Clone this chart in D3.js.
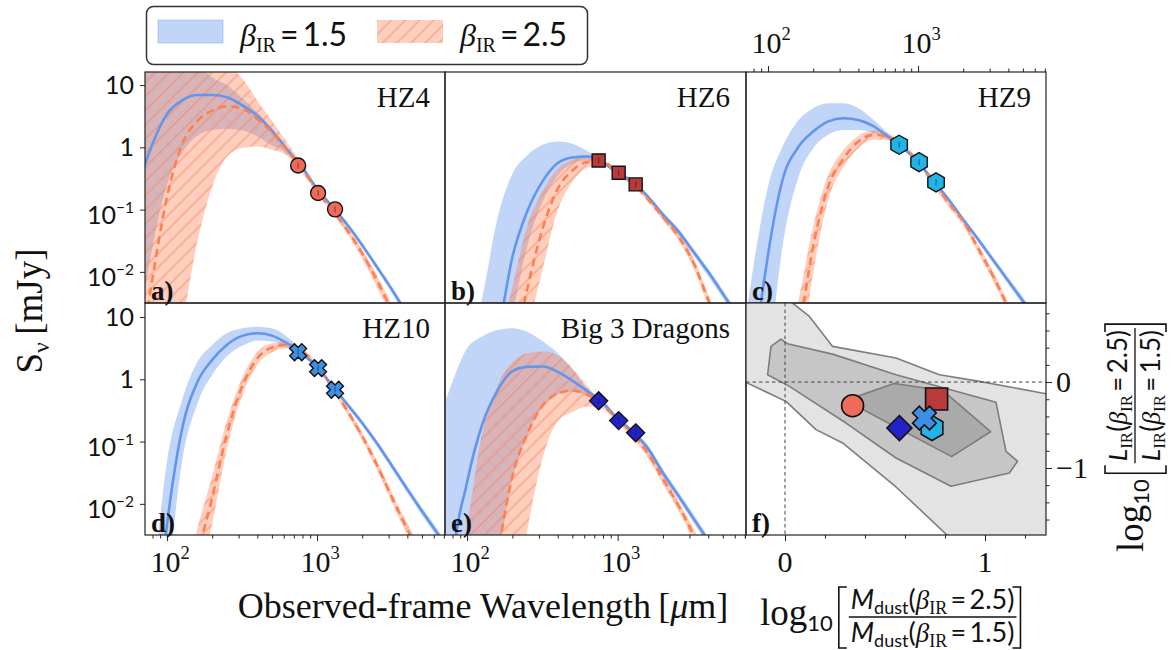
<!DOCTYPE html>
<html><head><meta charset="utf-8">
<script src="https://cdn.jsdelivr.net/npm/d3@7"></script>
<style>body{margin:0;background:#fff} svg{display:block}</style>
</head><body>
<svg id="chart" width="1172" height="650"></svg>
<script>
// ---------------- DATA ----------------
// wavelength grid (observed frame, micron)
const wavelength = [70,80,100,125,160,200,250,320,400,500,630,800,1000,1250,1600,2000,2500,3200,4000,5000,6300,8000];
// log10(S_nu / mJy): best fit (mid) and band limits (lo / hi)
const hz4_b15_mid = [-0.33,0.056,0.536,0.749,0.84,0.84,0.803,0.669,0.509,0.269,-0.03,-0.33,-0.664,-0.941,-1.251,-1.571,-1.917,-2.307,-2.691,-3.1,-3.5,-3.9];
const hz4_b15_hi  = [1.7,1.65,1.6,1.5,1.35,1.12,1.0,0.78,0.56,0.3,0.0,-0.3,-0.627,-0.904,-1.213,-1.533,-1.875,-2.259,-2.637,-3.05,-3.45,-3.85];
const hz4_b15_lo  = [-2.4,-1.6,-0.595,-0.104,0.189,0.28,0.296,0.269,0.173,0.029,-0.093,-0.36,-0.701,-0.984,-1.293,-1.613,-1.96,-2.36,-2.76,-3.15,-3.55,-3.95];
const hz4_b25_mid = [-3.0,-2.1,-0.797,0.029,0.429,0.589,0.659,0.616,0.456,0.243,-0.05,-0.35,-0.701,-0.995,-1.341,-1.704,-2.131,-2.664,-3.2,-3.7,-4.2,-4.7];
const hz4_b25_hi  = [2.2,2.1,1.95,1.8,1.65,1.5,1.34,1.096,0.749,0.429,0.083,-0.291,-0.664,-0.957,-1.288,-1.64,-2.051,-2.557,-3.05,-3.55,-4.05,-4.55];
const hz4_b25_lo  = [-5,-4.6,-3.8,-2.877,-1.49,-0.637,-0.157,-0.008,0.013,-0.04,-0.131,-0.413,-0.744,-1.037,-1.395,-1.784,-2.237,-2.771,-3.3,-3.8,-4.3,-4.8];

const hz6_b15_mid = [-6,-5.5,-4.6,-3.8,-3.0,-1.757,-1.037,-0.531,-0.253,-0.163,-0.147,-0.237,-0.413,-0.55,-0.8,-1.08,-1.33,-1.68,-2.0,-2.35,-2.72,-3.1];
const hz6_b15_hi  = [-4.5,-4.0,-3.3,-2.45,-1.117,-0.424,-0.131,0.045,0.093,0.056,-0.061,-0.211,-0.381,-0.52,-0.77,-1.04,-1.29,-1.63,-1.95,-2.29,-2.65,-3.02];
const hz6_b15_lo  = [-7,-6.5,-5.5,-4.5,-3.5,-2.66,-1.597,-0.851,-0.451,-0.264,-0.211,-0.275,-0.451,-0.6,-0.84,-1.13,-1.39,-1.74,-2.07,-2.42,-2.8,-3.2];
const hz6_b25_mid = [-8,-7,-6,-5,-4.2,-3.4,-2.29,-1.277,-0.664,-0.371,-0.237,-0.237,-0.397,-0.56,-0.84,-1.12,-1.41,-1.86,-2.45,-3.0,-3.6,-4.2];
const hz6_b25_hi  = [-7,-6,-5,-4,-3.2,-2.237,-1.277,-0.691,-0.344,-0.2,-0.147,-0.2,-0.36,-0.52,-0.8,-1.07,-1.35,-1.78,-2.36,-2.9,-3.5,-4.1];
const hz6_b25_lo  = [-9,-8,-7,-6,-5,-4,-3.0,-1.917,-1.011,-0.557,-0.328,-0.291,-0.44,-0.61,-0.88,-1.17,-1.47,-1.94,-2.54,-3.1,-3.7,-4.3];

const hz9_b15_mid = [-5,-3.5,-1.72,-0.52,0.013,0.253,0.413,0.467,0.44,0.344,0.173,-0.013,-0.237,-0.52,-0.84,-1.16,-1.469,-1.827,-2.147,-2.467,-2.813,-3.2];
const hz9_b15_hi  = [-2.87,-1.907,-0.627,0.013,0.44,0.627,0.707,0.707,0.627,0.451,0.227,0.013,-0.211,-0.493,-0.808,-1.123,-1.427,-1.779,-2.093,-2.403,-2.749,-3.13];
const hz9_b15_lo  = [-6,-5,-3.5,-1.587,-0.467,-0.013,0.2,0.28,0.28,0.237,0.12,-0.04,-0.264,-0.547,-0.872,-1.197,-1.512,-1.875,-2.2,-2.531,-2.877,-3.27];
const hz9_b25_mid = [-7,-6,-5,-4,-2.97,-1.587,-0.653,-0.173,0.093,0.2,0.173,0.013,-0.237,-0.547,-0.893,-1.19,-1.61,-2.09,-2.58,-3.1,-3.7,-4.3];
const hz9_b25_hi  = [-6.5,-5.5,-4.5,-3.5,-2.44,-1.267,-0.467,-0.04,0.184,0.269,0.227,0.056,-0.2,-0.504,-0.84,-1.14,-1.55,-2.02,-2.5,-3.0,-3.6,-4.2];
const hz9_b25_lo  = [-7.5,-6.5,-5.5,-4.5,-3.6,-2.013,-0.867,-0.307,-0.013,0.12,0.12,-0.029,-0.28,-0.6,-0.957,-1.25,-1.68,-2.17,-2.66,-3.2,-3.8,-4.4];

const hz10_b15_mid = [-6,-4.5,-2.328,-0.835,-0.035,0.312,0.552,0.701,0.739,0.701,0.579,0.403,0.205,-0.088,-0.408,-0.701,-1.021,-1.411,-1.768,-2.115,-2.461,-2.85];
const hz10_b15_hi  = [-5,-3.45,-1.315,-0.355,0.285,0.552,0.739,0.819,0.845,0.819,0.685,0.445,0.232,-0.056,-0.371,-0.664,-0.979,-1.363,-1.715,-2.056,-2.397,-2.78];
const hz10_b15_lo  = [-7,-5,-3.34,-1.368,-0.381,0.072,0.365,0.541,0.621,0.605,0.509,0.36,0.168,-0.125,-0.451,-0.744,-1.069,-1.464,-1.827,-2.179,-2.531,-2.92];
const hz10_b25_mid = [-8,-7,-6,-4.5,-2.861,-1.901,-0.888,-0.088,0.339,0.509,0.552,0.445,0.221,-0.115,-0.515,-0.915,-1.368,-1.928,-2.408,-2.861,-3.4,-4.0];
const hz10_b25_hi  = [-7,-6,-5,-3.6,-2.381,-1.555,-0.675,0.045,0.435,0.579,0.595,0.488,0.259,-0.072,-0.461,-0.856,-1.299,-1.848,-2.317,-2.765,-3.3,-3.9];
const hz10_b25_lo  = [-9,-8,-7,-5.5,-3.448,-2.328,-1.128,-0.237,0.232,0.435,0.499,0.403,0.179,-0.163,-0.568,-0.979,-1.443,-2.008,-2.499,-2.957,-3.5,-4.1];

const big3_b15_mid = [-5,-3.0,-1.65,-0.75,-0.17,0.13,0.2,0.205,0.12,-0.02,-0.19,-0.38,-0.632,-0.835,-1.117,-1.501,-1.848,-2.237,-2.595,-3.0,-3.4,-3.8];
const big3_b15_hi  = [-0.424,-0.035,0.499,0.685,0.792,0.819,0.765,0.605,0.419,0.168,-0.152,-0.35,-0.6,-0.8,-1.07,-1.45,-1.79,-2.17,-2.53,-2.92,-3.32,-3.72];
const big3_b15_lo  = [-7,-5.5,-5,-4,-2.85,-1.6,-0.92,-0.43,-0.25,-0.2,-0.27,-0.43,-0.68,-0.88,-1.17,-1.56,-1.91,-2.31,-2.67,-3.08,-3.48,-3.88];
const big3_b25_mid = [-8,-7,-6,-4.5,-2.808,-1.555,-0.888,-0.408,-0.227,-0.179,-0.248,-0.424,-0.648,-0.861,-1.2,-1.6,-2.0,-2.5,-3.0,-3.5,-4.0,-4.5];
const big3_b25_hi  = [-6,-4,-2.38,-0.91,-0.09,0.27,0.419,0.445,0.381,0.179,-0.115,-0.365,-0.595,-0.808,-1.14,-1.53,-1.93,-2.4,-2.88,-3.38,-3.88,-4.38];
const big3_b25_lo  = [-9,-8,-7,-6,-5,-4,-2.456,-1.235,-0.675,-0.525,-0.435,-0.472,-0.701,-0.931,-1.27,-1.68,-2.08,-2.6,-3.1,-3.6,-4.1,-4.6];

// ALMA photometry (micron, mJy)
const photWave = [748, 1016, 1318];
const hz4Flux  = [0.51, 0.185, 0.101];
const hz6Flux  = [0.615, 0.391, 0.254];
const hz9Flux  = [1.10, 0.579, 0.274];
const hz10Flux = [2.72, 1.51, 0.679];
const big3Flux = [0.453, 0.217, 0.138];

// panel f: ratios per source
const sourceNames = ['HZ4','HZ6','HZ9','HZ10','Big 3 Dragons'];
const ratioMdust = [0.338, 0.758, 0.735, 0.697, 0.572];
const ratioLIR   = [-0.275, -0.198, -0.535, -0.419, -0.535];
// panel f: density contours (x = log Mdust ratio, y = log LIR ratio)
const contourOuter = [[-0.4,1.1],[0.0,1.1],[0.038,0.919],[0.122,0.764],[0.238,0.415],[0.555,0.279],[0.772,0.085],[0.972,0.008],[1.305,-0.136],[1.5,-0.2],[1.5,-2.0],[0.86,-2.0],[0.81,-1.78],[0.555,-1.221],[0.288,-0.709],[0.155,-0.554],[0.005,-0.225],[-0.195,-0.004],[-0.4,0.08]];
const contourMid = [[-0.087,0.085],[-0.07,0.415],[-0.02,0.5],[0.013,0.446],[0.242,0.322],[0.555,0.085],[1.055,-0.236],[1.105,-0.806],[1.163,-0.922],[1.122,-1.058],[0.83,-1.213],[0.555,-0.884],[0.305,-0.477],[0.022,-0.05]];
const contourInner = [[0.333,-0.19],[0.545,-0.016],[0.79,-0.1],[1.028,-0.578],[0.833,-0.868],[0.333,-0.25]];

// ---------------- DRAWING ----------------
const BLUE = '#6495ed', ORANGE = '#ff7f50';
const SERIF = "'Liberation Serif','DejaVu Serif',serif";
const SANS = "Lato,'Open Sans',sans-serif";
const svg = d3.select('#chart');
const defs = svg.append('defs');
const pat = defs.append('pattern').attr('id','hatch').attr('patternUnits','userSpaceOnUse')
  .attr('width',10).attr('height',10).attr('patternTransform','rotate(45)');
pat.append('line').attr('x1',1).attr('y1',0).attr('x2',1).attr('y2',10)
  .attr('stroke','#ef7a55').attr('stroke-width',1).attr('opacity',0.7);

const COLS = [[145,445],[445,746],[746,1046]];
const ROWS = [[72,303],[303,535]];
const xDomain = [Math.pow(10,1.853), Math.pow(10,3.853)];
const yDomains = [[Math.pow(10,-2.5), Math.pow(10,1.21)], [Math.pow(10,-2.5), Math.pow(10,1.225)]];

function markerPath(type, s) {
  if (type === 'circle') return `M${s},0A${s},${s} 0 1,1 ${-s},0A${s},${s} 0 1,1 ${s},0Z`;
  if (type === 'square') return `M${-s},${-s}H${s}V${s}H${-s}Z`;
  if (type === 'diamond') return `M0,${-s}L${s},0L0,${s}L${-s},0Z`;
  if (type === 'hexagon') {
    const pts = d3.range(6).map(k => { const a = (-90 + 60*k)*Math.PI/180; return [s*Math.cos(a), s*Math.sin(a)]; });
    return 'M' + pts.map(p => p.join(',')).join('L') + 'Z';
  }
  // filled X
  const w = s*0.4, L = s;
  const plus = [[w,L],[w,w],[L,w],[L,-w],[w,-w],[w,-L],[-w,-L],[-w,-w],[-L,-w],[-L,w],[-w,w],[-w,L]];
  const c = Math.SQRT1_2;
  const rot = plus.map(([px,py]) => [px*c - py*c, px*c + py*c]);
  return 'M' + rot.map(p => p.join(',')).join('L') + 'Z';
}
const sedSize = {circle:7.5, square:6.5, hexagon:9.5, cross:8.5, diamond:9};
const fSize = {circle:11, square:11, hexagon:12.5, cross:12, diamond:12.5};

const sed = [
  {name:'HZ4', tag:'a)', c:0, r:0, b15:[hz4_b15_lo,hz4_b15_mid,hz4_b15_hi], b25:[hz4_b25_lo,hz4_b25_mid,hz4_b25_hi], flux:hz4Flux, mk:'circle', fill:'#ef6a58'},
  {name:'HZ6', tag:'b)', c:1, r:0, b15:[hz6_b15_lo,hz6_b15_mid,hz6_b15_hi], b25:[hz6_b25_lo,hz6_b25_mid,hz6_b25_hi], flux:hz6Flux, mk:'square', fill:'#b83a3a'},
  {name:'HZ9', tag:'c)', c:2, r:0, b15:[hz9_b15_lo,hz9_b15_mid,hz9_b15_hi], b25:[hz9_b25_lo,hz9_b25_mid,hz9_b25_hi], flux:hz9Flux, mk:'hexagon', fill:'#20b4e8'},
  {name:'HZ10', tag:'d)', c:0, r:1, b15:[hz10_b15_lo,hz10_b15_mid,hz10_b15_hi], b25:[hz10_b25_lo,hz10_b25_mid,hz10_b25_hi], flux:hz10Flux, mk:'cross', fill:'#3d8fe6'},
  {name:'Big 3 Dragons', tag:'e)', c:1, r:1, b15:[big3_b15_lo,big3_b15_mid,big3_b15_hi], b25:[big3_b25_lo,big3_b25_mid,big3_b25_hi], flux:big3Flux, mk:'diamond', fill:'#2222c8'}
];

function supText(parent, x, y, base, sup, family, size, anchor) {
  const t = parent.append('text').attr('x',x).attr('y',y).attr('text-anchor',anchor||'middle')
    .attr('font-family',family).attr('font-size',size).attr('fill','#111');
  t.append('tspan').text(base);
  if (sup) t.append('tspan').attr('dy',-size*0.42).attr('font-size',size*0.62).text(sup);
  return t;
}
function logTicks(lo, hi) {
  const out = [];
  for (let e = 1; e <= 4; e++) for (let m = 1; m < 10; m++) { const v = m*Math.pow(10,e); if (v >= lo && v <= hi) out.push(v); }
  return out;
}
function cleanAxis(g) { g.select('.domain').remove(); g.selectAll('line').attr('stroke','#222').attr('stroke-width',1); }

const toS = v => Math.pow(10, v);
sed.forEach((p, i) => {
  const [x0,x1] = COLS[p.c], [y0,y1] = ROWS[p.r];
  const x = d3.scaleLog().domain(xDomain).range([x0,x1]);
  const y = d3.scaleLog().domain(yDomains[p.r]).range([y1,y0]);
  const clipId = 'clip' + i;
  defs.append('clipPath').attr('id',clipId).append('rect').attr('x',x0).attr('y',y0).attr('width',x1-x0).attr('height',y1-y0);
  const g = svg.append('g').attr('clip-path',`url(#${clipId})`);
  const area = (lo, hi) => d3.area().x((d,j) => x(wavelength[j])).y0((d,j) => y(toS(lo[j]))).y1((d,j) => y(toS(hi[j]))).curve(d3.curveMonotoneX)(wavelength);
  const line = arr => d3.line().x((d,j) => x(wavelength[j])).y((d,j) => y(toS(arr[j]))).curve(d3.curveMonotoneX)(wavelength);
  g.append('path').attr('d', area(p.b15[0], p.b15[2])).attr('fill',BLUE).attr('fill-opacity',0.4);
  g.append('path').attr('d', area(p.b25[0], p.b25[2])).attr('fill',ORANGE).attr('fill-opacity',0.38);
  g.append('path').attr('d', area(p.b25[0], p.b25[2])).attr('fill','url(#hatch)');
  g.append('path').attr('d', line(p.b15[1])).attr('fill','none').attr('stroke',BLUE).attr('stroke-width',2.6);
  g.append('path').attr('d', line(p.b25[1])).attr('fill','none').attr('stroke',ORANGE).attr('stroke-width',2.6).attr('stroke-dasharray','8,5');
  // photometry
  photWave.forEach((w, k) => {
    const mx = x(w), my = y(p.flux[k]);
    svg.append('path').attr('d', markerPath(p.mk, sedSize[p.mk])).attr('transform',`translate(${mx},${my})`)
      .attr('fill',p.fill).attr('stroke','#111').attr('stroke-width',1.4);
    svg.append('line').attr('x1',mx).attr('x2',mx).attr('y1',my-3).attr('y2',my+3).attr('stroke','#222').attr('stroke-width',1).attr('opacity',0.6);
  });
  // frame
  svg.append('rect').attr('x',x0).attr('y',y0).attr('width',x1-x0).attr('height',y1-y0).attr('fill','none').attr('stroke','#222').attr('stroke-width',1.2);
  // name and tag
  svg.append('text').attr('x',x0+285).attr('y',y0+35).attr('text-anchor','end').attr('font-family',SERIF).attr('font-size',29).attr('fill','#111').text(p.name);
  svg.append('text').attr('x',x0+6).attr('y',y0+(y1-y0)-3).attr('font-family',SERIF).attr('font-weight','bold').attr('font-size',27).attr('fill','#111').text(p.tag);
  // y axis for left column
  if (p.c === 0) {
    const ga = svg.append('g').attr('transform',`translate(${x0},0)`)
      .call(d3.axisLeft(y).tickValues([10,1,0.1,0.01]).tickSize(5).tickSizeOuter(0).tickFormat(''));
    cleanAxis(ga);
    const labs = [[10,'10',null],[1,'1',null],[0.1,'10','\u22121'],[0.01,'10','\u22122']];
    labs.forEach(([v,b,s]) => supText(svg, x0-11, y(v) + (s ? 14 : 8.5), b, s, SANS, 25, 'end'));
  }
  const all = logTicks(xDomain[0], xDomain[1]);
  const majors = all.filter(v => v === 100 || v === 1000);
  const minors = all.filter(v => !majors.includes(v));
  if (p.r === 1) {
    const g1 = svg.append('g').attr('transform',`translate(0,${y1})`).call(d3.axisBottom(x).tickValues(majors).tickSize(6).tickSizeOuter(0).tickFormat(''));
    const g2 = svg.append('g').attr('transform',`translate(0,${y1})`).call(d3.axisBottom(x).tickValues(minors).tickSize(3.5).tickSizeOuter(0).tickFormat(''));
    cleanAxis(g1); cleanAxis(g2);
    supText(svg, x(100)+3, 572, '10', '2', SERIF, 30);
    supText(svg, x(1000)+3, 572, '10', '3', SERIF, 30);
  }
  if (p.c === 2) {
    const g1 = svg.append('g').attr('transform',`translate(0,${y0})`).call(d3.axisTop(x).tickValues(majors).tickSize(6).tickSizeOuter(0).tickFormat(''));
    const g2 = svg.append('g').attr('transform',`translate(0,${y0})`).call(d3.axisTop(x).tickValues(minors).tickSize(3.5).tickSizeOuter(0).tickFormat(''));
    cleanAxis(g1); cleanAxis(g2);
    supText(svg, x(100)+3, 53, '10', '2', SERIF, 30);
    supText(svg, x(1000)+3, 53, '10', '3', SERIF, 30);
  }
});

// ---------- panel f ----------
(function() {
  const [x0,x1] = COLS[2], [y0,y1] = ROWS[1];
  const x = d3.scaleLinear().domain([-0.195, 1.305]).range([x0,x1]);
  const y = d3.scaleLinear().domain([-1.78, 0.92]).range([y1,y0]);
  defs.append('clipPath').attr('id','clipf').append('rect').attr('x',x0).attr('y',y0).attr('width',x1-x0).attr('height',y1-y0);
  const g = svg.append('g').attr('clip-path','url(#clipf)');
  const poly = d3.line().x(d => x(d[0])).y(d => y(d[1]));
  [[contourOuter,'#e3e3e3'],[contourMid,'#c6c6c6'],[contourInner,'#aaaaaa']].forEach(([pts,fill]) => {
    g.append('path').attr('d', poly(pts) + 'Z').attr('fill',fill).attr('stroke','#7d7d7d').attr('stroke-width',1.6).attr('stroke-linejoin','round');
  });
  g.append('line').attr('x1',x(0)).attr('x2',x(0)).attr('y1',y0).attr('y2',y1).attr('stroke','#444').attr('stroke-width',1).attr('stroke-dasharray','3.5,3');
  g.append('line').attr('x1',x0).attr('x2',x1).attr('y1',y(0)).attr('y2',y(0)).attr('stroke','#444').attr('stroke-width',1).attr('stroke-dasharray','3.5,3');
  const order = [0,1,4,2,3];
  order.forEach(k => {
    const p = sed[k];
    svg.append('path').attr('d', markerPath(p.mk, fSize[p.mk])).attr('transform',`translate(${x(ratioMdust[k])},${y(ratioLIR[k])})`)
      .attr('fill',p.fill).attr('stroke','#111').attr('stroke-width',1.6);
  });
  svg.append('rect').attr('x',x0).attr('y',y0).attr('width',x1-x0).attr('height',y1-y0).attr('fill','none').attr('stroke','#222').attr('stroke-width',1.2);
  svg.append('text').attr('x',x0+6).attr('y',y1-3).attr('font-family',SERIF).attr('font-weight','bold').attr('font-size',27).attr('fill','#111').text('f)');
  // axes
  const gx1 = svg.append('g').attr('transform',`translate(0,${y1})`).call(d3.axisBottom(x).tickValues([0,1]).tickSize(6).tickSizeOuter(0).tickFormat(''));
  const gx2 = svg.append('g').attr('transform',`translate(0,${y1})`).call(d3.axisBottom(x).tickValues([-0.2,0.2,0.4,0.6,0.8,1.2]).tickSize(3.5).tickSizeOuter(0).tickFormat(''));
  const gy1 = svg.append('g').attr('transform',`translate(${x1},0)`).call(d3.axisRight(y).tickValues([0,-1]).tickSize(6).tickSizeOuter(0).tickFormat(''));
  const gy2 = svg.append('g').attr('transform',`translate(${x1},0)`).call(d3.axisRight(y).tickValues([-1.6,-1.4,-1.2,-0.8,-0.6,-0.4,-0.2,0.2,0.4,0.6,0.8]).tickSize(3.5).tickSizeOuter(0).tickFormat(''));
  [gx1,gx2,gy1,gy2].forEach(cleanAxis);
  [[0,'0'],[1,'1']].forEach(([v,t]) => svg.append('text').attr('x',x(v)).attr('y',572).attr('text-anchor','middle').attr('font-family',SERIF).attr('font-size',30).attr('fill','#111').text(t));
  [[0,'0'],[-1,'\u22121']].forEach(([v,t]) => svg.append('text').attr('x',x1+10).attr('y',y(v)+10).attr('font-family',SERIF).attr('font-size',30).attr('fill','#111').text(t));
})();

// ---------- fraction labels ----------
function fracLabel(g, qty, qtySub, fs) {
  const t = g.append('text').attr('x',0).attr('y',0).attr('font-family',SERIF).attr('font-size',37).attr('fill','#111');
  t.append('tspan').text('log');
  t.append('tspan').attr('dy',6).attr('font-family',SANS).attr('font-size',22).text('10');
  const w0 = t.node().getComputedTextLength();
  const sub = Math.round(fs*0.66);
  const mk = (yb, val) => {
    const n = g.append('text').attr('y',yb).attr('text-anchor','middle').attr('font-family',SANS).attr('font-size',fs).attr('fill','#111');
    n.append('tspan').attr('font-style','italic').text(qty);
    n.append('tspan').attr('dy',5).attr('font-size',sub).attr('font-family',qtySub[1]).text(qtySub[0]);
    n.append('tspan').attr('dy',-5).text('(');
    n.append('tspan').attr('font-style','italic').attr('font-family',SERIF).text('\u03B2');
    n.append('tspan').attr('dy',5).attr('font-size',sub).attr('font-family',SERIF).text('IR');
    n.append('tspan').attr('dy',-5).text('\u2009=\u2009' + val + ')');
    return n;
  };
  const num = mk(-16, '2.5'), den = mk(17, '1.5');
  const fw = Math.max(num.node().getComputedTextLength(), den.node().getComputedTextLength()) + 4;
  const bx = w0 + 6, fx = bx + 10;
  num.attr('x', fx + fw/2); den.attr('x', fx + fw/2);
  g.append('line').attr('x1',fx).attr('x2',fx+fw).attr('y1',-8).attr('y2',-8).attr('stroke','#111').attr('stroke-width',1.3);
  g.append('path').attr('d',`M${bx+8},-38H${bx}V23H${bx+8}`).attr('fill','none').attr('stroke','#111').attr('stroke-width',1.6);
  const rx = fx + fw + 4;
  g.append('path').attr('d',`M${rx-8},-38H${rx}V23H${rx-8}`).attr('fill','none').attr('stroke','#111').attr('stroke-width',1.6);
}
fracLabel(svg.append('g').attr('transform','translate(760,625)'), 'M', ['dust', SANS], 27);
fracLabel(svg.append('g').attr('transform','translate(1143,552) rotate(-90)'), 'L', ['IR', SERIF], 26);

// ---------- axis titles ----------
const yt = svg.append('text').attr('transform','translate(42,311) rotate(-90)').attr('text-anchor','middle')
  .attr('font-family',SERIF).attr('font-size',37).attr('fill','#111');
yt.append('tspan').text('S');
yt.append('tspan').attr('dy',7).attr('font-size',24).text('\u03BD');
yt.append('tspan').attr('dy',-7).text('\u2009[mJy]');
const xt = svg.append('text').attr('x',483).attr('y',618).attr('text-anchor','middle')
  .attr('font-family',SERIF).attr('font-size',36).attr('fill','#111');
xt.append('tspan').text('Observed-frame Wavelength\u2009[');
xt.append('tspan').attr('font-style','italic').text('\u03BC');
xt.append('tspan').text('m]');

// ---------- legend ----------
const lg = svg.append('g');
lg.append('rect').attr('x',146.5).attr('y',6.5).attr('width',441).attr('height',58).attr('rx',7)
  .attr('fill','#fff').attr('stroke','#333').attr('stroke-width',1.5);
lg.append('rect').attr('x',158).attr('y',20).attr('width',65).attr('height',23).attr('fill',BLUE).attr('fill-opacity',0.4).attr('stroke',BLUE).attr('stroke-opacity',0.4);
lg.append('rect').attr('x',377).attr('y',20).attr('width',66).attr('height',23).attr('fill',ORANGE).attr('fill-opacity',0.38);
lg.append('rect').attr('x',377).attr('y',20).attr('width',66).attr('height',23).attr('fill','url(#hatch)');
[[240,'1.5'],[460,'2.5']].forEach(([lx,v]) => {
  const t = lg.append('text').attr('x',lx).attr('y',46).attr('font-family',SANS).attr('font-size',32).attr('fill','#111');
  t.append('tspan').attr('font-family',SERIF).attr('font-style','italic').text('\u03B2');
  t.append('tspan').attr('dy',6).attr('font-family',SERIF).attr('font-size',20).text('IR');
  t.append('tspan').attr('dy',-6).text('\u2009=\u2009' + v);
});
</script>
</body></html>
